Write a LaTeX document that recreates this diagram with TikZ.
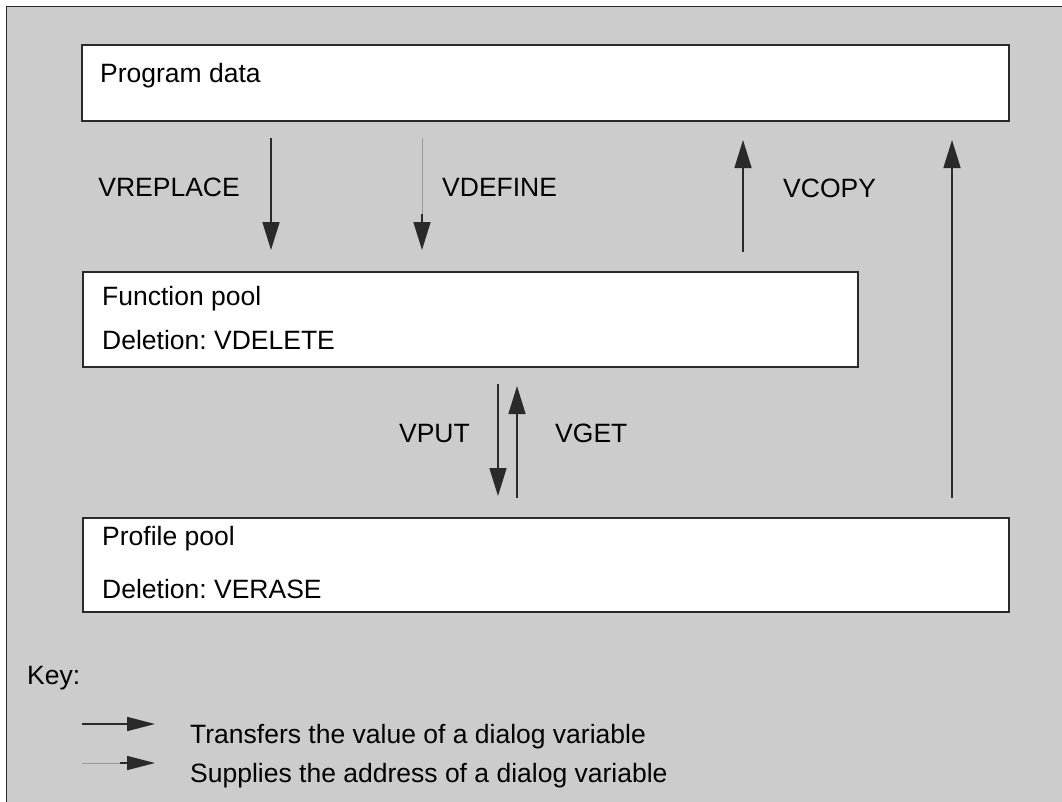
\documentclass[tikz,border=0pt]{standalone}
\usepackage{fontspec}
\setmainfont{Liberation Sans}
\usetikzlibrary{arrows.meta}
\definecolor{bggray}{HTML}{CCCCCC}
\definecolor{linegray}{HTML}{2A2A2A}
\definecolor{thingray}{HTML}{9A9A9A}
\frenchspacing
\begin{document}
\begin{tikzpicture}[x=1pt,y=-1pt,
  lbl/.style={inner sep=0pt,anchor=base west,font=\fontsize{26.5}{30}\selectfont},
  lble/.style={lbl,anchor=base east},
  poolbox/.style={draw=linegray,line width=1.5pt,fill=white,inner sep=0pt},
  valarrow/.style={draw=linegray,line width=1.6pt,-{Triangle[length=28pt,width=17pt]}},
  addrline/.style={draw=thingray,line width=0.8pt},
  keyarrow/.style={draw=linegray,line width=1.6pt,-{Triangle[length=28pt,width=14pt]}}]
\useasboundingbox (0,0) rectangle (1062,801);
\fill[white] (0,0) rectangle (1062,801);
\draw[fill=bggray,draw=linegray,line width=1.8pt] (6.5,6.5) rectangle (1080,820);
% boxes
\node[poolbox,minimum width=927pt,minimum height=76pt,anchor=north west] (prog) at (81,44) {};
\node[poolbox,minimum width=775pt,minimum height=95pt,anchor=north west] (func) at (82,271) {};
\node[poolbox,minimum width=926pt,minimum height=94pt,anchor=north west] (prof) at (82,517) {};
% box texts
\node[lbl] (tprog) at (100,82) {Program data};
\node[lbl] (tfunc) at (102,305) {Function pool};
\node[lbl] (tfdel) at (102,349) {Deletion: VDELETE};
\node[lbl] (tprof) at (102,545) {Profile pool};
\node[lbl] (tpdel) at (102,598) {Deletion: VERASE};
% arrow end points
\coordinate (vrs) at (271,138); \coordinate (vre) at (271,250);
\coordinate (vds) at (422,138); \coordinate (vdm) at (422,214); \coordinate (vde) at (422,250);
\coordinate (vcs) at (743,252); \coordinate (vce) at (743,140);
\coordinate (rs) at (952,498); \coordinate (re) at (952,140);
\coordinate (vps) at (498,384); \coordinate (vpe) at (498,496);
\coordinate (vgs) at (517,498); \coordinate (vge) at (517,386);
% arrows
\draw[valarrow] (vrs) -- (vre);
\draw[addrline] (vds) -- (vdm);
\draw[valarrow] (vdm) -- (vde);
\draw[valarrow] (vcs) -- (vce);
\draw[valarrow] (rs) -- (re);
\draw[valarrow] (vps) -- (vpe);
\draw[valarrow] (vgs) -- (vge);
% arrow labels
\node[lble] (lvr) at (240,196) {VREPLACE};
\node[lbl] (lvd) at (442,196) {VDEFINE};
\node[lbl] (lvc) at (783,197) {VCOPY};
\node[lble] (lvp) at (470,442) {VPUT};
\node[lbl] (lvg) at (555,442) {VGET};
% key
\node[lbl] (key) at (27,684) {Key:};
\coordinate (k1s) at (82,724); \coordinate (k1e) at (155,724);
\coordinate (k2s) at (82,763); \coordinate (k2m) at (120,763); \coordinate (k2e) at (155,763);
\draw[keyarrow] (k1s) -- (k1e);
\draw[addrline] (k2s) -- (k2m);
\draw[keyarrow] (k2m) -- (k2e);
\node[lbl] (kt1) at (190,743) {Transfers the value of a dialog variable};
\node[lbl] (kt2) at (190,782) {Supplies the address of a dialog variable};
\end{tikzpicture}
\end{document}
